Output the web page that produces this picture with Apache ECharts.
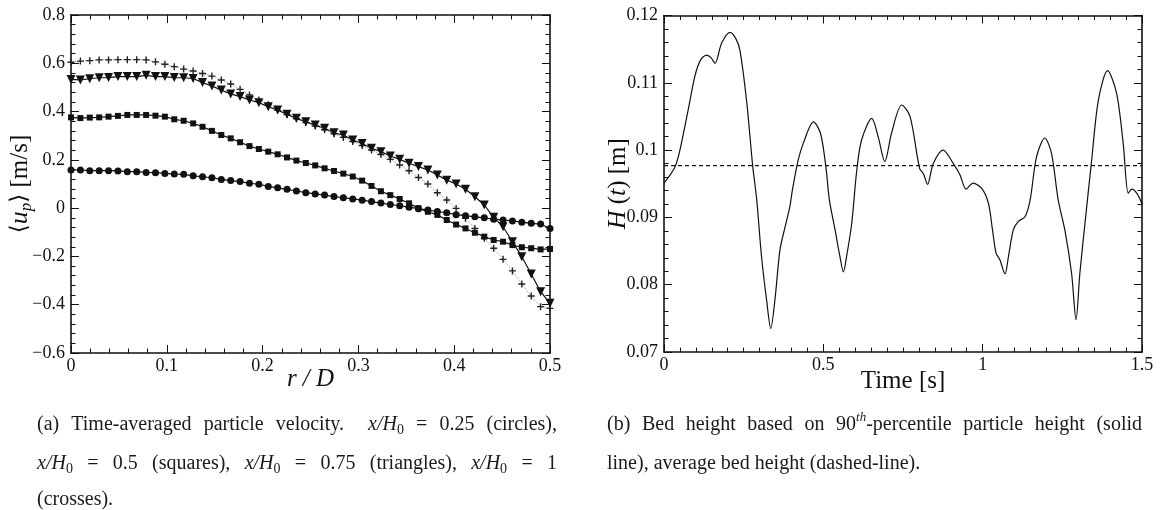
<!DOCTYPE html>
<html><head><meta charset="utf-8">
<script src="https://cdn.jsdelivr.net/npm/echarts@6/dist/echarts.min.js"></script>
<style>html,body{margin:0;padding:0;background:#fff;}#c{width:1161px;height:510px;}</style>
</head><body><div id="c"></div>
<script>
// ---------- data (a): time-averaged particle velocity ----------
const R_D = [0, 0.0098, 0.0196, 0.0294, 0.0392, 0.0490, 0.0588, 0.0686, 0.0784, 0.0882,
  0.0980, 0.1078, 0.1176, 0.1275, 0.1373, 0.1471, 0.1569, 0.1667, 0.1765, 0.1863,
  0.1961, 0.2059, 0.2157, 0.2255, 0.2353, 0.2451, 0.2549, 0.2647, 0.2745, 0.2843,
  0.2941, 0.3039, 0.3137, 0.3235, 0.3333, 0.3431, 0.3529, 0.3627, 0.3725, 0.3824,
  0.3922, 0.4020, 0.4118, 0.4216, 0.4314, 0.4412, 0.4510, 0.4608, 0.4706, 0.4804,
  0.4902, 0.5];
const CIRCLES = [0.158, 0.158, 0.155, 0.155, 0.155, 0.154, 0.151, 0.151, 0.148, 0.147,
  0.144, 0.141, 0.140, 0.134, 0.130, 0.126, 0.119, 0.114, 0.110, 0.103,
  0.099, 0.090, 0.084, 0.078, 0.071, 0.064, 0.059, 0.054, 0.048, 0.043,
  0.038, 0.033, 0.027, 0.021, 0.015, 0.010, 0.004, -0.002, -0.008, -0.014,
  -0.019, -0.027, -0.031, -0.036, -0.040, -0.046, -0.049, -0.053, -0.058, -0.063,
  -0.066, -0.084];
const SQUARES = [0.376, 0.373, 0.375, 0.376, 0.379, 0.382, 0.386, 0.386, 0.386, 0.383,
  0.379, 0.368, 0.362, 0.351, 0.337, 0.320, 0.303, 0.289, 0.273, 0.257,
  0.245, 0.234, 0.223, 0.210, 0.197, 0.187, 0.177, 0.165, 0.154, 0.143,
  0.131, 0.114, 0.092, 0.070, 0.054, 0.038, 0.020, 0.000, -0.015, -0.028,
  -0.049, -0.068, -0.084, -0.102, -0.118, -0.132, -0.139, -0.153, -0.162, -0.166,
  -0.171, -0.169];
const TRIANGLES = [0.533, 0.531, 0.536, 0.540, 0.541, 0.545, 0.545, 0.545, 0.550, 0.545,
  0.545, 0.541, 0.540, 0.537, 0.520, 0.506, 0.489, 0.473, 0.462, 0.448,
  0.437, 0.420, 0.406, 0.389, 0.372, 0.358, 0.344, 0.331, 0.312, 0.303,
  0.282, 0.268, 0.248, 0.234, 0.216, 0.202, 0.186, 0.172, 0.158, 0.137,
  0.116, 0.100, 0.078, 0.047, 0.013, -0.038, -0.077, -0.139, -0.201, -0.273,
  -0.346, -0.394];
const CROSSES = [0.604, 0.609, 0.611, 0.614, 0.614, 0.615, 0.615, 0.615, 0.614, 0.606,
  0.596, 0.586, 0.576, 0.568, 0.558, 0.547, 0.531, 0.514, 0.492, 0.469,
  0.448, 0.428, 0.405, 0.388, 0.370, 0.355, 0.340, 0.325, 0.308, 0.293,
  0.276, 0.259, 0.241, 0.222, 0.202, 0.179, 0.155, 0.127, 0.100, 0.064,
  0.034, -0.001, -0.042, -0.084, -0.125, -0.166, -0.212, -0.260, -0.314, -0.364,
  -0.408, -0.415];

// ---------- data (b): bed height ----------
const TIME = [0, 0.0345, 0.05, 0.076, 0.097, 0.115, 0.134, 0.148, 0.160, 0.181,
  0.207, 0.225, 0.238, 0.259, 0.278, 0.291, 0.306, 0.322, 0.335, 0.348,
  0.364, 0.380, 0.395, 0.403, 0.421, 0.437, 0.469, 0.491, 0.508, 0.519,
  0.537, 0.552, 0.563, 0.573, 0.589, 0.605, 0.620, 0.652, 0.672, 0.693,
  0.714, 0.746, 0.772, 0.802, 0.814, 0.827, 0.845, 0.876, 0.908, 0.929,
  0.948, 0.970, 0.997, 1.018, 1.031, 1.042, 1.054, 1.070, 1.081, 1.096,
  1.112, 1.133, 1.149, 1.169, 1.195, 1.216, 1.237, 1.258, 1.279, 1.293,
  1.305, 1.321, 1.342, 1.363, 1.392, 1.420, 1.441, 1.457, 1.468, 1.485, 1.5];
const HEIGHT = [0.0951, 0.0975, 0.1000, 0.1060, 0.1110, 0.1134, 0.1141, 0.1137, 0.1129, 0.1159,
  0.1175, 0.1166, 0.1149, 0.1074, 0.0978, 0.0926, 0.0842, 0.0777, 0.0735, 0.0777,
  0.0852, 0.0886, 0.0916, 0.0941, 0.0985, 0.1010, 0.1042, 0.1025, 0.0975, 0.0926,
  0.0881, 0.0842, 0.0819, 0.0842, 0.0891, 0.0970, 0.1015, 0.1047, 0.1020, 0.0983,
  0.1025, 0.1067, 0.1050, 0.0973, 0.0965, 0.0949, 0.0980, 0.1000, 0.0980, 0.0963,
  0.0942, 0.0951, 0.0943, 0.0921, 0.0881, 0.0847, 0.0837, 0.0816, 0.0842, 0.0881,
  0.0894, 0.0901, 0.0926, 0.0990, 0.1018, 0.0995, 0.0926, 0.0881, 0.0817, 0.0748,
  0.0817, 0.0891, 0.0985, 0.1074, 0.1118, 0.1085, 0.1010, 0.0936, 0.0942, 0.0935, 0.0920];
const MEAN_HEIGHT = 0.0977;
const TIME_RANGE = [0, 1.5];

// ---------- captions ----------
const CAPTION_A = [
  [[['(a)','rm']],[['Time-averaged','rm']],[['particle','rm']],[['velocity.','rm']],[],
   [['x/H','it'],['0','sub']],[['=','rm']],[['0.25','rm']],[['(circles),','rm']]],
  [[['x/H','it'],['0','sub']],[['=','rm']],[['0.5','rm']],[['(squares),','rm']],
   [['x/H','it'],['0','sub']],[['=','rm']],[['0.75','rm']],[['(triangles),','rm']],
   [['x/H','it'],['0','sub']],[['=','rm']],[['1','rm']]],
  [[['(crosses).','rm']]]
];
const CAPTION_B = [
  [[['(b)','rm']],[['Bed','rm']],[['height','rm']],[['based','rm']],[['on','rm']],
   [['90','rm'],['th','sup'],['-percentile','rm']],[['particle','rm']],[['height','rm']],[['(solid','rm']]],
  [[['line),','rm']],[['average','rm']],[['bed','rm']],[['height','rm']],[['(dashed-line).','rm']]]
];

const SERIF = '"Liberation Serif", "Times New Roman", Times, serif';
const INK = '#111';

const zip = (xs, ys) => xs.map((x, i) => [x, ys[i]]);
const minus = s => String(s).replace('-', '\u2212');

function axis(extra) {
  return Object.assign({
    type: 'value',
    axisLine: {show: true, onZero: false, lineStyle: {color: INK, width: 1.6}},
    axisTick: {show: true, inside: true, length: 8, lineStyle: {color: INK, width: 1}},
    minorTick: {show: true, length: 4.5, lineStyle: {color: INK, width: 1}},
    splitLine: {show: false},
    minorSplitLine: {show: false},
    axisLabel: {show: false},
    nameMoveOverlap: false
  }, extra);
}
const lbl = (fmt, margin) => ({show: true, fontFamily: SERIF, fontSize: 18, color: INK, margin: margin, formatter: fmt});

const fmtA = v => v === 0 ? '0' : minus((+v.toFixed(1)).toString());
const fmtB = v => (+v.toFixed(2)).toString();

// caption layout (justified lines, measured with canvas)
const ctx = document.createElement('canvas').getContext('2d');
const STY = {rm: {size: 20, it: false, dy: 0}, it: {size: 20, it: true, dy: 0},
             sub: {size: 14, it: false, dy: 5}, sup: {size: 13, it: true, dy: -7}};
const fontOf = k => (STY[k].it ? 'italic ' : '') + STY[k].size + 'px ' + SERIF;
const wOf = p => { ctx.font = fontOf(p[1]); return ctx.measureText(p[0]).width; };
function layLine(words, x0, x1, y, justify, out) {
  const ws = words.map(wd => wd.reduce((a, p) => a + wOf(p), 0));
  const total = ws.reduce((a, b) => a + b, 0);
  ctx.font = fontOf('rm');
  const sp = ctx.measureText(' ').width;
  const gap = justify ? (x1 - x0 - total) / (words.length - 1) : sp;
  let x = x0;
  words.forEach((wd, i) => {
    let px = x;
    wd.forEach(p => {
      out.push({type: 'text', x: px, y: y + STY[p[1]].dy, silent: true, z: 100,
        style: {text: p[0], font: fontOf(p[1]), fill: '#1a1a1a',
                textAlign: 'left', textVerticalAlign: 'middle', align: 'left', verticalAlign: 'middle'}});
      px += wOf(p);
    });
    x += ws[i] + gap;
  });
}
const graphics = [];
const capAY = [425, 464, 500];
CAPTION_A.forEach((ln, i) => layLine(ln, 37, 557, capAY[i], i < 2, graphics));
const capBY = [425, 464];
CAPTION_B.forEach((ln, i) => layLine(ln, 607, 1142, capBY[i], i < 1, graphics));

const nameStyle = {fontFamily: SERIF, fontSize: 25, color: INK};
const PLUS = 'path://M4,0H6V4H10V6H6V10H4V6H0V4H4Z';

const option = {
  animation: false,
  backgroundColor: '#fff',
  grid: [
    {left: 71, top: 15, width: 479, height: 338},
    {left: 664, top: 15.5, width: 478, height: 336.5}
  ],
  xAxis: [
    axis({gridIndex: 0, position: 'bottom', min: 0, max: 0.5, interval: 0.1,
      minorTick: {show: true, splitNumber: 5, length: 4.5, lineStyle: {color: INK, width: 1}},
      axisLabel: lbl(fmtA, 4),
      name: '{i|r / D}', nameLocation: 'middle', nameGap: 14,
      nameTextStyle: Object.assign({}, nameStyle, {rich: {i: {fontFamily: SERIF, fontSize: 25, fontStyle: 'italic', color: INK}}})}),
    axis({gridIndex: 0, position: 'top', min: 0, max: 0.5, interval: 0.1,
      minorTick: {show: true, splitNumber: 5, length: 4.5, lineStyle: {color: INK, width: 1}}}),
    axis({gridIndex: 1, position: 'bottom', min: TIME_RANGE[0], max: TIME_RANGE[1], interval: 0.5,
      minorTick: {show: true, splitNumber: 10, length: 4.5, lineStyle: {color: INK, width: 1}},
      axisLabel: lbl(fmtB, 4),
      name: 'Time [s]', nameLocation: 'middle', nameGap: 17, nameTextStyle: nameStyle}),
    axis({gridIndex: 1, position: 'top', min: TIME_RANGE[0], max: TIME_RANGE[1], interval: 0.5,
      minorTick: {show: true, splitNumber: 10, length: 4.5, lineStyle: {color: INK, width: 1}}})
  ],
  yAxis: [
    axis({gridIndex: 0, position: 'left', min: -0.6, max: 0.8, interval: 0.2,
      minorTick: {show: true, splitNumber: 5, length: 4.5, lineStyle: {color: INK, width: 1}},
      axisLabel: lbl(fmtA, 6),
      name: '{b|\u27E8}{i|u}{s|p}{b|\u27E9}{r| [m/s]}', nameLocation: 'middle', nameRotate: 90, nameGap: 36,
      nameTextStyle: Object.assign({}, nameStyle, {rich: {
        b: {fontFamily: '"DejaVu Serif", serif', fontSize: 23, color: INK},
        i: {fontFamily: SERIF, fontSize: 26, fontStyle: 'italic', color: INK},
        s: {fontFamily: SERIF, fontSize: 17, fontStyle: 'italic', color: INK, padding: [13, 0, 0, 0]},
        r: {fontFamily: SERIF, fontSize: 25, color: INK}}})}),
    axis({gridIndex: 0, position: 'right', min: -0.6, max: 0.8, interval: 0.2,
      minorTick: {show: true, splitNumber: 5, length: 4.5, lineStyle: {color: INK, width: 1}}}),
    axis({gridIndex: 1, position: 'left', min: 0.07, max: 0.12, interval: 0.01,
      minorTick: {show: true, splitNumber: 5, length: 4.5, lineStyle: {color: INK, width: 1}},
      axisLabel: lbl(fmtB, 6),
      name: '{i|H}{r| (}{i|t}{r|) [m]}', nameLocation: 'middle', nameRotate: 90, nameGap: 33,
      nameTextStyle: Object.assign({}, nameStyle, {rich: {
        i: {fontFamily: SERIF, fontSize: 26, fontStyle: 'italic', color: INK},
        r: {fontFamily: SERIF, fontSize: 25, color: INK}}})}),
    axis({gridIndex: 1, position: 'right', min: 0.07, max: 0.12, interval: 0.01,
      minorTick: {show: true, splitNumber: 5, length: 4.5, lineStyle: {color: INK, width: 1}}})
  ],
  series: [
    {name: 'x/H0 = 1', type: 'line', xAxisIndex: 0, yAxisIndex: 0, z: 1,
      data: zip(R_D, CROSSES), symbol: PLUS, symbolSize: 7, showAllSymbol: true,
      itemStyle: {color: '#222'}, lineStyle: {color: '#999', width: 1, type: 'dotted'}},
    {name: 'x/H0 = 0.25', type: 'line', xAxisIndex: 0, yAxisIndex: 0, z: 2,
      data: zip(R_D, CIRCLES), symbol: 'circle', symbolSize: 7, showAllSymbol: true,
      itemStyle: {color: '#111'}, lineStyle: {color: '#111', width: 1.2}},
    {name: 'x/H0 = 0.5', type: 'line', xAxisIndex: 0, yAxisIndex: 0, z: 2,
      data: zip(R_D, SQUARES), symbol: 'rect', symbolSize: 6, showAllSymbol: true,
      itemStyle: {color: '#111'}, lineStyle: {color: '#111', width: 1.2}},
    {name: 'x/H0 = 0.75', type: 'line', xAxisIndex: 0, yAxisIndex: 0, z: 2,
      data: zip(R_D, TRIANGLES), symbol: 'triangle', symbolRotate: 180, symbolSize: 9, showAllSymbol: true,
      itemStyle: {color: '#111'}, lineStyle: {color: '#111', width: 1.2}},
    {name: 'H(t)', type: 'line', xAxisIndex: 2, yAxisIndex: 2,
      data: zip(TIME, HEIGHT), showSymbol: false, smooth: 0.3,
      lineStyle: {color: '#111', width: 1.2}},
    {name: 'mean', type: 'line', xAxisIndex: 2, yAxisIndex: 2,
      data: TIME_RANGE.map(t => [t, MEAN_HEIGHT]), showSymbol: false,
      lineStyle: {color: '#111', width: 1.2, type: [4, 3]}}
  ],
  graphic: graphics
};
const chart = echarts.init(document.getElementById('c'), null, {renderer: 'canvas', devicePixelRatio: 1});
chart.setOption(option);
</script></body></html>
